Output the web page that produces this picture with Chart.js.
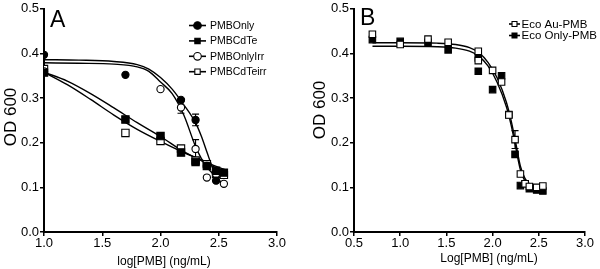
<!DOCTYPE html>
<html>
<head>
<meta charset="utf-8">
<script src="https://cdn.jsdelivr.net/npm/chart.js@4.4.1/dist/chart.umd.min.js"></script>
<style>
  html, body { margin: 0; padding: 0; background: #fff; }
  #wrap { position: relative; width: 600px; height: 269px; }
  .panel { position: absolute; top: 0; width: 300px; height: 269px; }
</style>
</head>
<body>
<div id="wrap">
  <div class="panel" style="left:0"><canvas id="chartA"></canvas></div>
  <div class="panel" style="left:300px"><canvas id="chartB"></canvas></div>
</div>
<script>
// ---- panel A data ----
const xA = [1.0, 1.699, 2.0, 2.176, 2.301, 2.398, 2.477, 2.544];
const pmbOnly    = [0.397, 0.352, null, 0.296, 0.251, 0.148, 0.115, null];
const pmbCdTe    = [0.357, 0.252, 0.215, 0.178, 0.157, 0.148, 0.137, 0.133];
const pmbOnlyIrr = [0.360, null, 0.320, 0.279, 0.186, 0.122, 0.130, 0.108];
const pmbCdTeirr = [0.365, 0.222, 0.204, 0.187, 0.160, 0.152, 0.130, 0.128];
const errOnly    = [0, 0, 0, 0, 0.013, 0, 0, 0];
const errOnlyIrr = [0, 0, 0, 0.013, 0.021, 0, 0, 0];

// fitted curves, sampled from the figure
const fitXA1 = [1.0, 1.3, 1.6, 1.8, 1.9, 2.0, 2.1, 2.2, 2.3, 2.35, 2.4, 2.45, 2.5, 2.55];
const fitOnly    = [0.386, 0.385, 0.382, 0.375, 0.365, 0.346, 0.320, 0.285, 0.245, 0.215, 0.178, 0.142, 0.118, 0.102];
const fitOnlyIrr = [0.379, 0.378, 0.376, 0.370, 0.360, 0.336, 0.310, 0.262, 0.192, 0.165, 0.145, 0.130, 0.115, 0.104];
const fitXA2 = [1.0, 1.2, 1.4, 1.6, 1.8, 2.0, 2.2, 2.35, 2.45, 2.55];
const fitCdTe    = [0.358, 0.338, 0.310, 0.278, 0.245, 0.214, 0.180, 0.160, 0.147, 0.135];
const fitCdTeirr = [0.358, 0.330, 0.297, 0.262, 0.230, 0.203, 0.178, 0.162, 0.150, 0.140];

const xTicksA = [1.0, 1.5, 2.0, 2.5, 3.0];
const yTicks  = [0.0, 0.1, 0.2, 0.3, 0.4, 0.5];

// ---- panel B data ----
const xB = [0.699, 1.0, 1.301, 1.519, 1.845, 1.845, 2.0, 2.097, 2.176, 2.243, 2.301, 2.352, 2.398, 2.477, 2.544];
const ecoAu   = [0.443, 0.420, 0.432, 0.425, 0.405, 0.384, 0.362, 0.336, 0.262, 0.207, 0.130, 0.108, 0.102, 0.100, 0.103];
const ecoOnly = [0.431, 0.427, 0.425, 0.408, 0.390, 0.360, 0.319, 0.350, 0.263, 0.174, 0.104, 0.108, 0.097, 0.094, 0.092];
const errAu   = [0, 0, 0, 0, 0, 0, 0, 0, 0, 0.02, 0, 0, 0, 0, 0];

const fitXB = [0.7, 1.0, 1.4, 1.6, 1.75, 1.85, 1.95, 2.05, 2.15, 2.2, 2.25, 2.3, 2.35, 2.4, 2.45, 2.55];
const fitAu   = [0.424, 0.424, 0.423, 0.420, 0.413, 0.402, 0.380, 0.345, 0.290, 0.250, 0.200, 0.148, 0.120, 0.108, 0.102, 0.098];
const fitOnlyB = [0.416, 0.416, 0.415, 0.412, 0.405, 0.394, 0.372, 0.335, 0.280, 0.240, 0.190, 0.140, 0.114, 0.103, 0.097, 0.094];

const xTicksB = [0.5, 1.0, 1.5, 2.0, 2.5, 3.0];

const FONT = "'Liberation Sans', Arial, Helvetica, sans-serif";

function pts(xs, ys) {
  const out = [];
  xs.forEach((x, i) => { if (ys[i] != null) out.push({x: x, y: ys[i]}); });
  return out;
}

function markerSet(label, xs, ys, style, filled, r, errs) {
  return {
    label: label,
    data: pts(xs, ys),
    errs: errs ? pts(xs, xs.map((x, i) => ys[i] == null ? null : errs[i])) : null,
    showLine: false,
    pointStyle: style,
    pointRadius: r,
    pointHoverRadius: r,
    pointBackgroundColor: filled ? '#000' : '#fff',
    pointBorderColor: '#000',
    pointBorderWidth: 1.1,
    legendMark: {style: style, filled: filled},
    order: 1
  };
}

function curveSet(xs, ys) {
  return {
    data: pts(xs, ys),
    showLine: true,
    borderColor: '#000',
    borderWidth: 1.4,
    pointRadius: 0,
    cubicInterpolationMode: 'monotone',
    order: 2
  };
}

function drawMark(ctx, style, filled, x, y, r) {
  ctx.beginPath();
  if (style === 'circle') {
    ctx.arc(x, y, r, 0, Math.PI * 2);
  } else {
    const s = r * Math.SQRT1_2;
    ctx.rect(x - s, y - s, 2 * s, 2 * s);
  }
  ctx.fillStyle = filled ? '#000' : '#fff';
  ctx.fill();
  ctx.lineWidth = 1.1;
  ctx.strokeStyle = '#000';
  ctx.stroke();
}

// error bars + texts + legend
const decor = {
  id: 'decor',
  beforeDatasetsDraw(chart) {
    const ctx = chart.ctx, xs = chart.scales.x, ys = chart.scales.y;
    ctx.save();
    ctx.strokeStyle = '#000';
    ctx.lineWidth = 1.1;
    chart.data.datasets.forEach(ds => {
      if (!ds.errs) return;
      ds.errs.forEach((e, i) => {
        if (!e.y) return;
        const p = ds.data[i];
        const px = xs.getPixelForValue(p.x);
        const y1 = ys.getPixelForValue(p.y + e.y), y2 = ys.getPixelForValue(p.y - e.y);
        ctx.beginPath();
        ctx.moveTo(px, y1); ctx.lineTo(px, y2);
        ctx.moveTo(px - 3.5, y1); ctx.lineTo(px + 3.5, y1);
        ctx.moveTo(px - 3.5, y2); ctx.lineTo(px + 3.5, y2);
        ctx.stroke();
      });
    });
    ctx.restore();
  },
  afterDraw(chart, args, o) {
    const ctx = chart.ctx;
    ctx.save();
    ctx.fillStyle = '#000';
    // panel letter
    ctx.font = '23px ' + FONT;
    ctx.textBaseline = 'alphabetic';
    ctx.textAlign = 'left';
    ctx.fillText(o.letter, o.letterX, o.letterY);
    // axis titles
    ctx.font = '12px ' + FONT;
    ctx.textAlign = 'center';
    ctx.textBaseline = 'middle';
    ctx.fillText(o.xTitle, o.xTitleX, o.xTitleY);
    ctx.save();
    ctx.translate(o.yTitleX, o.yTitleY);
    ctx.rotate(-Math.PI / 2);
    ctx.font = '17px ' + FONT;
    ctx.fillText('OD 600', 0, 0);
    ctx.restore();
    // legend
    ctx.font = o.legFont + 'px ' + FONT;
    ctx.textAlign = 'left';
    let row = 0;
    chart.data.datasets.forEach(ds => {
      if (!ds.legendMark) return;
      const y = o.legY + row * o.legDy;
      ctx.beginPath();
      ctx.moveTo(o.legX, y); ctx.lineTo(o.legX + o.legLen, y);
      ctx.lineWidth = 1.6; ctx.strokeStyle = '#000';
      ctx.stroke();
      drawMark(ctx, ds.legendMark.style, ds.legendMark.filled, o.legX + o.legLen / 2, y, o.legR);
      ctx.fillStyle = '#000';
      ctx.fillText(ds.label, o.legX + o.legLen + o.legGap, y + 0.5);
      row++;
    });
    ctx.restore();
  }
};

function axes(xmin, xmax, xTicks, yWidth) {
  const tickFont = {family: FONT, size: 13};
  return {
    x: {
      type: 'linear', min: xmin, max: xmax,
      afterBuildTicks: s => { s.ticks = xTicks.map(v => ({value: v})); },
      afterFit: s => { s.height = 37; },
      ticks: {font: tickFont, color: '#000', padding: 0, maxRotation: 0, callback: v => v.toFixed(1)},
      grid: {drawOnChartArea: false, drawTicks: true, tickLength: 4, color: '#000', lineWidth: 1.5},
      border: {color: '#000', width: 2}
    },
    y: {
      type: 'linear', min: 0, max: 0.5,
      afterBuildTicks: s => { s.ticks = yTicks.map(v => ({value: v})); },
      afterFit: s => { s.width = yWidth; },
      ticks: {font: tickFont, color: '#000', padding: 1, callback: v => v.toFixed(1)},
      grid: {drawOnChartArea: false, drawTicks: true, tickLength: 4, color: '#000', lineWidth: 1.5},
      border: {color: '#000', width: 2}
    }
  };
}

Chart.defaults.animation = false;

new Chart(document.getElementById('chartA'), {
  type: 'scatter',
  data: {
    datasets: [
      markerSet('PMBOnly', xA, pmbOnly, 'circle', true, 3.6, errOnly),
      markerSet('PMBCdTe', xA, pmbCdTe, 'rect', true, 5.2),
      markerSet('PMBOnlyIrr', xA, pmbOnlyIrr, 'circle', false, 3.6, errOnlyIrr),
      markerSet('PMBCdTeirr', xA, pmbCdTeirr, 'rect', false, 5.2),
      curveSet(fitXA1, fitOnly),
      curveSet(fitXA1, fitOnlyIrr),
      curveSet(fitXA2, fitCdTe),
      curveSet(fitXA2, fitCdTeirr)
    ]
  },
  options: {
    responsive: true, maintainAspectRatio: false,
    layout: {padding: {top: 6, right: 23, left: 0, bottom: 0}},
    scales: axes(1.0, 3.0, xTicksA, 44),
    plugins: {
      legend: {display: false}, tooltip: {enabled: false},
      decor: {letter: 'A', letterX: 50, letterY: 27, xTitle: 'log[PMB] (ng/mL)', xTitleX: 164, xTitleY: 262,
              yTitleX: 11, yTitleY: 117, legX: 189, legY: 25.5, legDy: 15.4, legLen: 17, legGap: 4, legR: 3.8, legFont: 10.5}
    }
  },
  plugins: [decor]
});

new Chart(document.getElementById('chartB'), {
  type: 'scatter',
  data: {
    datasets: [
      markerSet('Eco Au-PMB', xB, ecoAu, 'rect', false, 4.6, errAu),
      markerSet('Eco Only-PMB', xB, ecoOnly, 'rect', true, 4.6),
      curveSet(fitXB, fitAu),
      curveSet(fitXB, fitOnlyB)
    ]
  },
  options: {
    responsive: true, maintainAspectRatio: false,
    layout: {padding: {top: 6, right: 15, left: 0, bottom: 0}},
    scales: axes(0.5, 3.0, xTicksB, 54),
    plugins: {
      legend: {display: false}, tooltip: {enabled: false},
      decor: {letter: 'B', letterX: 60, letterY: 25, xTitle: 'Log[PMB] (ng/mL)', xTitleX: 189, xTitleY: 259,
              yTitleX: 20, yTitleY: 110, legX: 209, legY: 24, legDy: 11.5, legLen: 11, legGap: 1.5, legR: 3.5, legFont: 11.5}
    }
  },
  plugins: [decor]
});
</script>
</body>
</html>
